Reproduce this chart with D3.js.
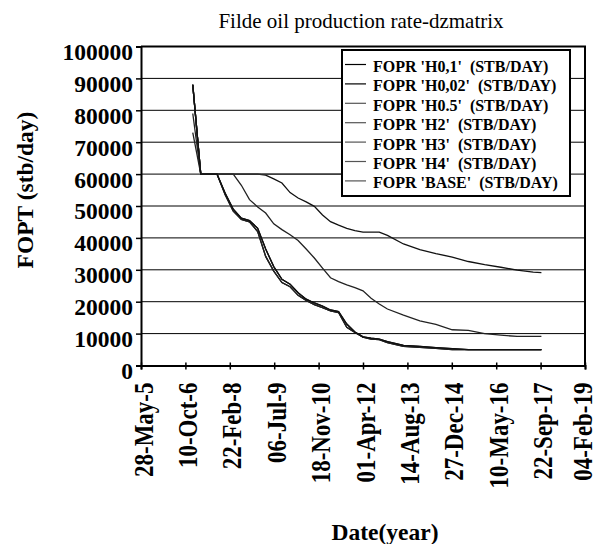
<!DOCTYPE html>
<html>
<head>
<meta charset="utf-8">
<script src="https://cdn.jsdelivr.net/npm/d3@7"></script>
<style>
  body { margin: 0; background: #fff; }
  svg text { font-family: "Liberation Serif", "Times New Roman", serif; }
</style>
</head>
<body>
<div id="chart"></div>
<script>
// report dates shared by every case
var dates = ["2007-01-01","2007-04-01","2007-07-01","2007-10-01","2008-01-01","2008-04-01","2008-07-01","2008-10-01",
  "2009-01-01","2009-04-01","2009-07-01","2009-10-01","2010-01-01","2010-04-01","2010-07-01","2010-10-01",
  "2011-01-01","2011-04-01","2011-07-01","2011-10-01","2012-01-01","2012-04-01","2012-07-01","2012-10-01",
  "2013-01-01","2013-07-01","2014-01-01","2014-07-01","2015-01-01","2015-07-01","2016-01-01","2016-07-01",
  "2017-01-01","2017-07-01","2017-10-01"];

var seriesNames = ["FOPR 'H0,1'  (STB/DAY)", "FOPR 'H0,02'  (STB/DAY)", "FOPR 'H0.5'  (STB/DAY)",
  "FOPR 'H2'  (STB/DAY)", "FOPR 'H3'  (STB/DAY)", "FOPR 'H4'  (STB/DAY)", "FOPR 'BASE'  (STB/DAY)"];

var h01 = [88000,60000,60000,60000,53500,48400,45800,45000,42000,34200,29600,26000,24700,22000,20400,19100,
  18100,17100,16600,12000,10400,8900,8300,8100,7200,6000,5700,5400,5000,5000,5000,5000,5000,5000,5000];
var h002 = [88000,60000,60000,60000,54000,49000,46200,45400,43000,36500,31000,27000,25500,22800,20800,19600,
  18600,17400,16900,13000,10500,9000,8600,8300,7500,6300,6000,5600,5300,5000,5000,5000,5000,5000,5000];
var h05 = [73000,60000,60000,60000,60000,60000,56500,52000,49700,47800,44400,42600,41000,39200,36500,33700,
  30500,27500,26300,25300,24400,23400,21100,19300,17700,15800,14000,12900,11200,11000,10000,9500,9100,9100,9100];
var h2 = [88000,60000,60000,60000,60000,60000,60000,60000,60000,59700,58500,57200,54200,52500,51300,49900,
  47200,45100,44000,43000,42300,41800,41800,41800,40800,38100,36300,35100,34000,32600,31600,30800,29900,29300,29100];
var h3 = [79000,60000,60000,60000,53500,48400,45800,45000,42000,34200,29600,26000,24700,22000,20400,19100,
  18100,17100,16600,12000,10400,8900,8300,8100,7200,6000,5700,5400,5000,5000,5000,5000,5000,5000,5000];
var h4 = [88000,60000,60000,60000,60000,60000,60000,60000,60000,60000,60000,60000,60000,60000,60000,60000,
  60000,60000,60000,60000,60000,60000,60000,60000,60000,60000,60000,60000,60000,60000,60000,60000,60000,60000,60000];
var base = [88000,60000,60000,60000,54000,49000,46200,45400,43000,36500,31000,27000,25500,22800,20800,19600,
  18600,17400,16900,13000,10500,9000,8600,8300,7500,6300,6000,5600,5300,5000,5000,5000,5000,5000,5000];

var allSeries = [h01, h002, h05, h2, h3, h4, base];
var lineColors = ["#000", "#000", "#222", "#111", "#222", "#333", "#111"];

var xTickDates = ["2005-05-28","2006-10-10","2008-02-22","2009-07-06","2010-11-18","2012-04-01",
  "2013-08-14","2014-12-27","2016-05-10","2017-09-22","2019-02-04"];
var xTickLabels = ["28-May-5","10-Oct-6","22-Feb-8","06-Jul-9","18-Nov-10","01-Apr-12",
  "14-Aug-13","27-Dec-14","10-May-16","22-Sep-17","04-Feb-19"];
var yTicks = [0,10000,20000,30000,40000,50000,60000,70000,80000,90000,100000];

(function () {
var W = 599, H = 544;
var pLeft = 141, pRight = 585, pTop = 46.5, pBottom = 365.5;
var parse = d3.timeParse("%Y-%m-%d");

var svg = d3.select("#chart").append("svg").attr("width", W).attr("height", H);

var x = d3.scaleTime()
  .domain([parse(xTickDates[0]), parse(xTickDates[xTickDates.length - 1])])
  .range([pLeft, pRight]);
var y = d3.scaleLinear().domain([0, 100000]).range([pBottom, pTop]);

// gridlines
svg.append("g").selectAll("line").data(yTicks.slice(1, -1)).enter().append("line")
  .attr("x1", pLeft).attr("x2", pRight)
  .attr("y1", d => y(d)).attr("y2", d => y(d))
  .attr("stroke", "#000").attr("stroke-width", 1);

// plot border top/right
svg.append("path")
  .attr("d", "M" + pLeft + "," + pTop + "H" + pRight + "V" + pBottom)
  .attr("fill", "none").attr("stroke", "#000").attr("stroke-width", 2);

// series
var line = d3.line().x((d, i) => x(parse(dates[i]))).y(d => y(d));
svg.append("g").selectAll("path").data(allSeries).enter().append("path")
  .attr("d", d => line(d))
  .attr("fill", "none")
  .attr("stroke", (d, i) => lineColors[i])
  .attr("stroke-width", 1.3);

// axes
var yAxis = svg.append("g").attr("transform", "translate(" + pLeft + ",0)")
  .call(d3.axisLeft(y).tickValues(yTicks).tickSize(5).tickPadding(3).tickFormat(d3.format("d")));
yAxis.select(".domain").attr("stroke-width", 2);
yAxis.selectAll(".tick line").attr("stroke-width", 1.5);
yAxis.selectAll("text").attr("font-size", "23.5px").attr("font-weight", "bold")
  .attr("fill", "#000").attr("dy", "0.55em");

var xAxis = svg.append("g").attr("transform", "translate(0," + pBottom + ")")
  .call(d3.axisBottom(x).tickValues(xTickDates.map(parse)).tickSize(4)
    .tickFormat((d, i) => xTickLabels[i]));
xAxis.select(".domain").attr("stroke-width", 2);
xAxis.selectAll(".tick line").attr("y1", -3).attr("stroke-width", 1.5);
// labels are a little wider across than the font gives, so stretch them
xAxis.selectAll("text")
  .attr("font-size", "23px").attr("font-weight", "bold").attr("fill", "#000")
  .attr("text-anchor", "end")
  .attr("transform", "rotate(-90) scale(1,1.15)")
  .attr("x", -17)
  .attr("y", (d, i) => i === xTickLabels.length - 1 ? 6 : 9.6)
  .attr("dy", 0);

// titles
svg.append("text").attr("x", 361).attr("y", 28).attr("text-anchor", "middle")
  .attr("font-size", "21px").text("Filde oil production rate-dzmatrix");
svg.append("text").attr("transform", "translate(33,190) rotate(-90)").attr("text-anchor", "middle")
  .attr("font-size", "23.5px").attr("font-weight", "bold").text("FOPT (stb/day)");
svg.append("text").attr("x", 385).attr("y", 540).attr("text-anchor", "middle")
  .attr("font-size", "23.5px").attr("font-weight", "bold").text("Date(year)");

// legend
var lg = svg.append("g");
lg.append("rect").attr("x", 342).attr("y", 50).attr("width", 228).attr("height", 146)
  .attr("fill", "#fff").attr("stroke", "#000").attr("stroke-width", 2);
var rows = lg.selectAll(".row").data(seriesNames).enter().append("g")
  .attr("transform", (d, i) => "translate(0," + (66.5 + i * 19.4) + ")");
rows.append("line").attr("x1", 345).attr("x2", 366).attr("y1", -2).attr("y2", -2)
  .attr("stroke", (d, i) => i < 2 ? "#000" : "#555").attr("stroke-width", 1.2);
rows.append("text").attr("x", 373).attr("y", 5.5).attr("font-size", "16px").attr("font-weight", "bold")
  .style("white-space", "pre").attr("xml:space", "preserve").text(d => d);
})();
</script>
</body>
</html>
